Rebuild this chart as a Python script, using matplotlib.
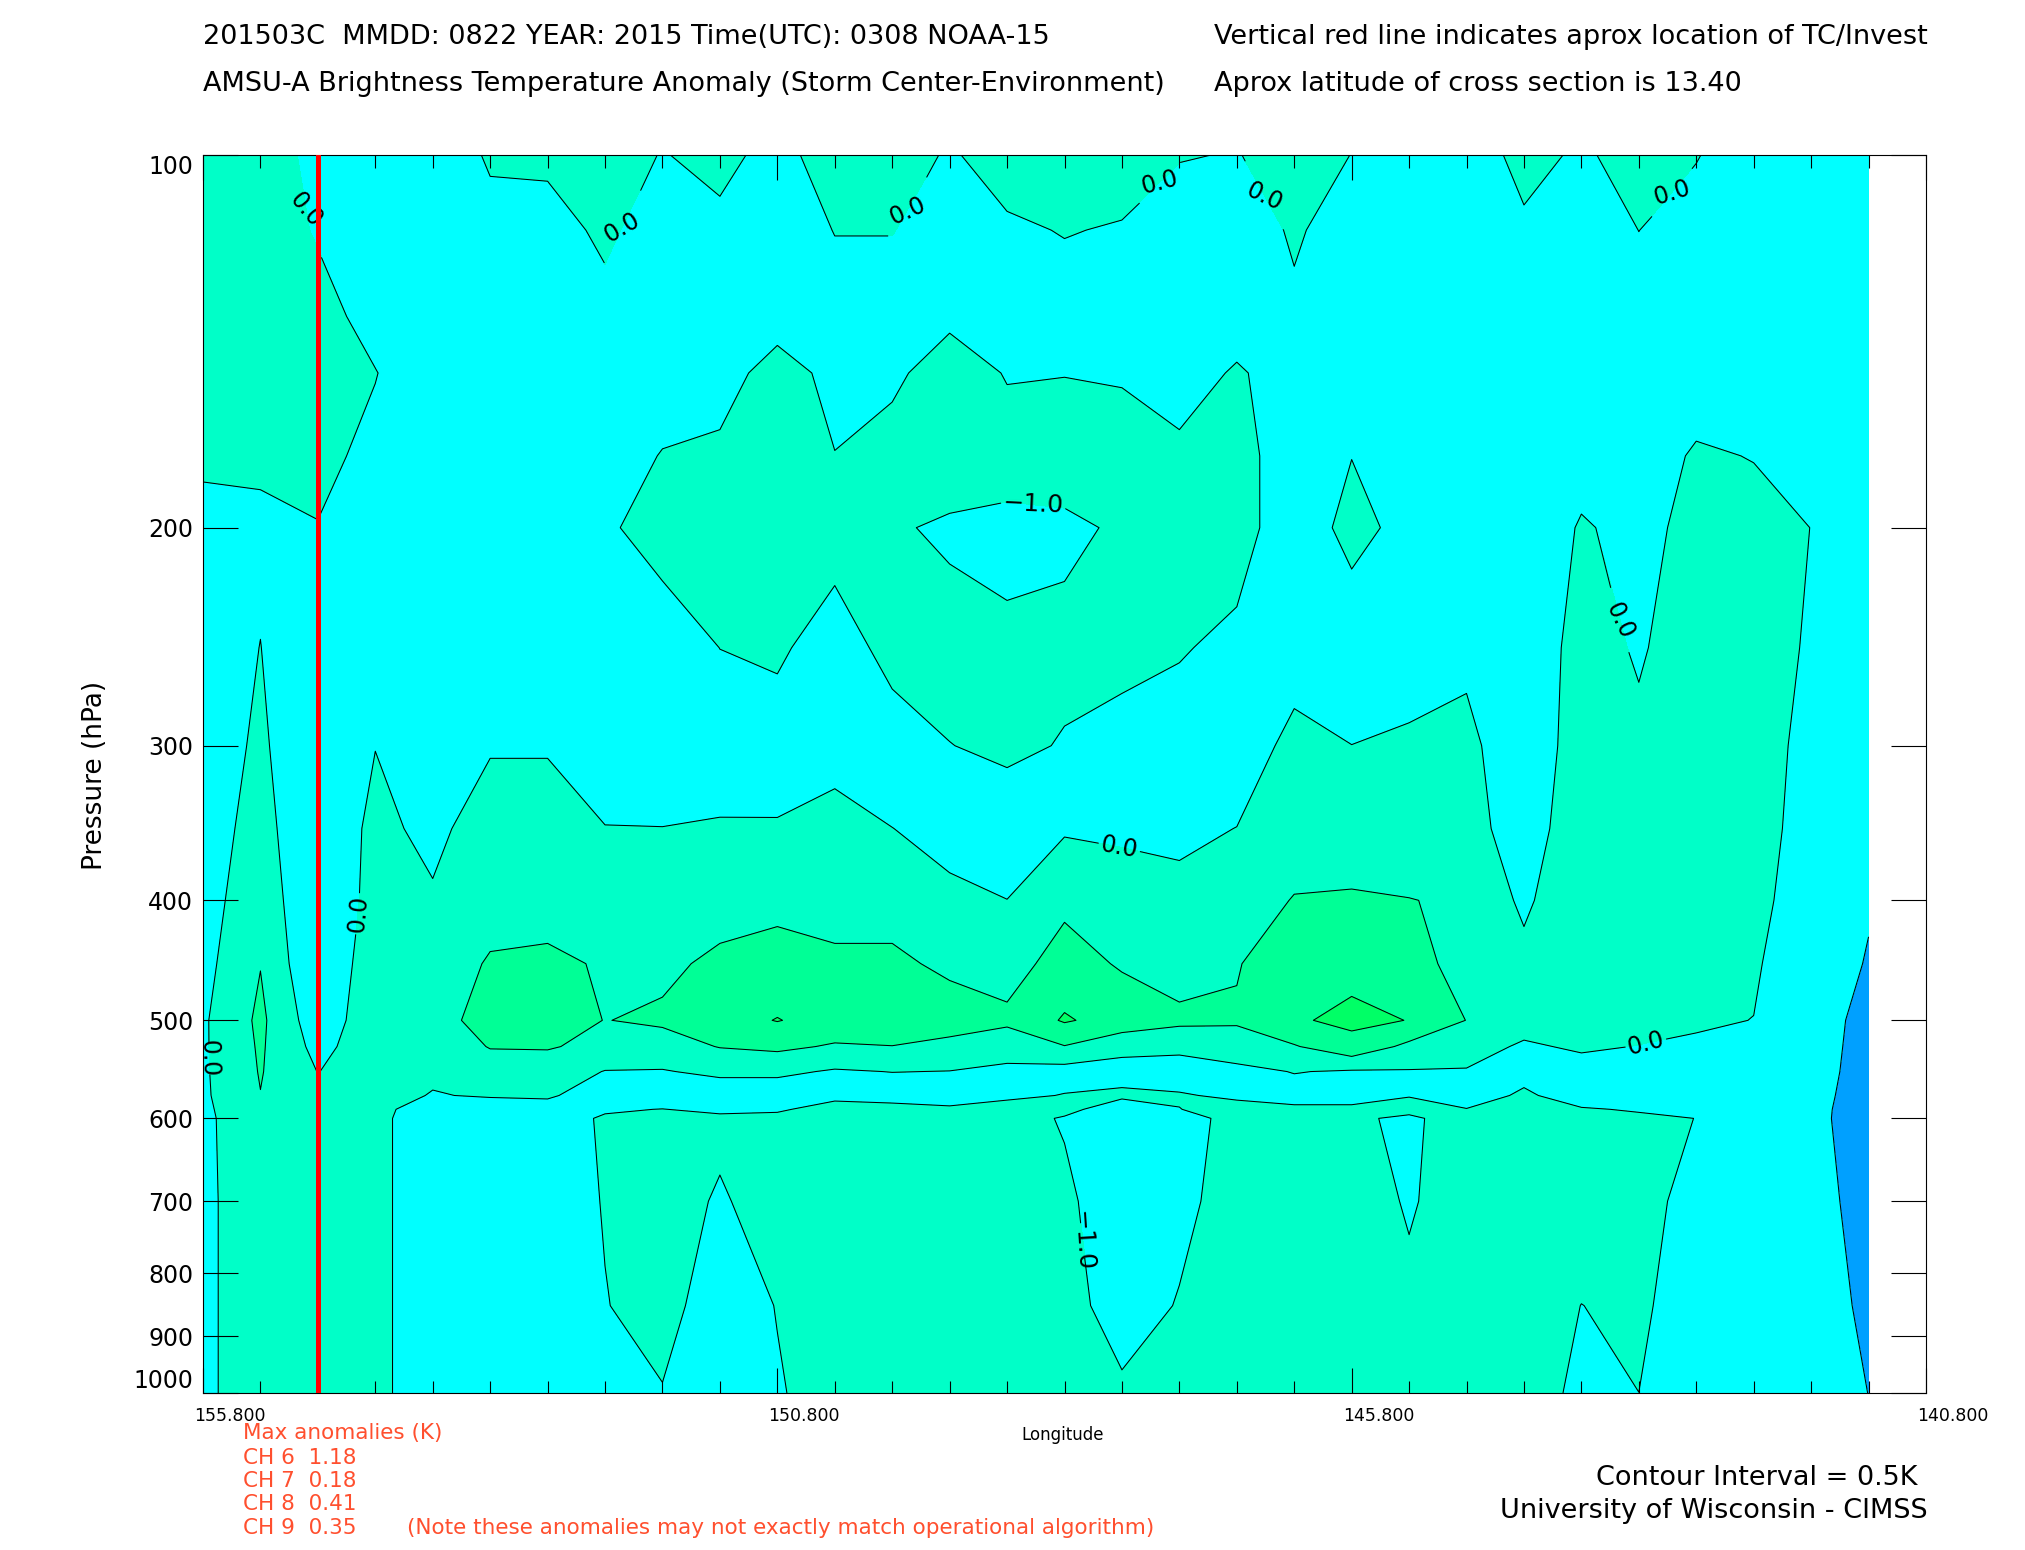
import matplotlib
matplotlib.use("Agg")
import matplotlib.pyplot as plt
import matplotlib.transforms as mtransforms
import numpy as np
from matplotlib.ticker import FixedLocator, NullLocator

# --- data: AMSU-A brightness temperature anomaly cross section ---

lons = [155.8, 155.3, 154.8, 154.3, 153.8, 153.3, 152.8, 152.3, 151.8, 151.3,
        150.8, 150.3, 149.8, 149.3, 148.8, 148.3, 147.8, 147.3, 146.8, 146.3,
        145.8, 145.3, 144.8, 144.3, 143.8, 143.3, 142.8, 142.3, 141.8, 141.3]
pres = [100, 115, 135, 150, 175, 200, 250, 300, 350, 400,
        450, 500, 525, 550, 575, 590, 600, 700, 850, 1000]

# anomaly profile (K) at each longitude, from 100 hPa down to 1000 hPa
t1558 = [0.3, 0.3, 0.3, 0.3, 0.08, -0.15, -0.4, -0.475, -0.25, -0.19, -0.153, -0.067, -0.065, -0.07, -0.08, -0.085, -0.09, -0.09, -0.09, -0.09]
t1553 = [0.25, 0.3, 0.3, 0.3, 0.1, -0.12, 0.01, 0.15, 0.2, 0.3, 0.486, 0.6, 0.56, 0.53, 0.49, 0.35, 0.3, 0.25, 0.25, 0.25]
t1548 = [-0.14, -0.05, 0.2, 0.3, 0.15, -0.02, -0.6, -0.8, -0.49, -0.45, -0.486, -0.3, -0.15, -0.01, 0.2, 0.25, 0.25, 0.25, 0.25, 0.25]
t1543 = [-0.5, -0.5, -0.2, 0.02, -0.15, -0.4, -0.4, -0.01, 0.15, 0.175, 0.32, 0.31, 0.3, 0.25, 0.2, 0.17, 0.15, 0.15, 0.15, 0.15]
t1538 = [-0.55, -0.5, -0.45, -0.4, -0.4, -0.4, -0.4, -0.3, -0.15, 0.07, 0.2, 0.3, 0.25, 0.1, -0.03, -0.3, -0.35, -0.35, -0.35, -0.35]
t1533 = [0.1, -0.27, -0.4, -0.4, -0.4, -0.4, -0.4, -0.05, 0.3, 0.3, 0.55, 0.7, 0.52, 0.3, 0.05, -0.3, -0.35, -0.35, -0.35, -0.35]
t1528 = [0.15, -0.3, -0.4, -0.4, -0.4, -0.4, -0.4, -0.05, 0.3, 0.3, 0.6, 0.7, 0.53, 0.3, 0.05, -0.15, -0.2, -0.3, -0.3, -0.3]
t1523 = [0.4, 0.15, -0.25, -0.4, -0.3, -0.09, -0.3, -0.4, 0.02, 0.3, 0.45, 0.49, 0.4, -0.02, -0.2, -0.05, 0.05, 0.03, -0.02, -0.3]
t1518 = [-0.04, -0.4, -0.4, -0.3, 0.03, 0.25, -0.35, -0.4, 0.01, 0.35, 0.4, 0.573, 0.3, -0.03, -0.3, 0.01, 0.2, 0.2, 0.2, -0.03]
t1513 = [0.25, -0.22, -0.4, -0.2, 0.1, 0.3, 0.005, -0.35, 0.06, 0.3, 0.6, 0.8, 0.52, 0.1, -0.3, -0.1, 0.1, -0.05, -0.3, -0.3]
t1508 = [-0.3, -0.4, -0.2, 0.2, 0.3, 0.3, 0.1, -0.3, 0.05, 0.4, 0.65, 1.02, 0.6, 0.1, -0.3, -0.05, 0.1, 0.2, 0.02, -0.05]
t1503 = [0.45, 0.02, -0.3, -0.133, 0.01, 0.25, -0.3, -0.2, 0.2, 0.3, 0.6, 0.8, 0.45, -0.05, -0.1, 0.15, 0.25, 0.25, 0.25, 0.25]
t1498 = [0.3, 0.02, -0.3, -0.1, 0.2, 0.058, 0.2, -0.3, 0.005, 0.3, 0.6, 0.8, 0.49, 0.01, -0.3, 0.25, 0.35, 0.25, 0.25, 0.25]
t1493 = [-0.07, -0.3, -0.1, 0.25, 0.3, -0.08, 0.206, -0.01, -0.15, 0.1, 0.4, 0.75, 0.35, -0.01, -0.3, 0.1, 0.25, 0.25, 0.25, 0.25]
t1488 = [0.28, -0.1, -0.3, -0.03, 0.2, -0.12, 0.087, 0.1, -0.3, 0.005, 0.3, 0.6, 0.2, -0.1, -0.1, 0.2, 0.23, 0.25, 0.25, 0.25]
t1483 = [0.35, 0.03, -0.3, -0.01, 0.2, -0.08, 0.11, -0.03, -0.05, 0.4, 0.7, 1.05, 0.48, -0.2, 0.02, 0.15, -0.05, 0.126, 0.25, 0.25]
t1478 = [0.3, -0.05, -0.3, -0.04, 0.2, 0.053, 0.2, -0.25, -0.1, 0.3, 0.45, 0.8, 0.15, -0.2, 0.1, -0.3, -0.4, -0.4, -0.3, 0.117]
t1473 = [0.037, -0.35, -0.4, -0.2, 0.1, 0.25, 0.05, -0.3, -0.15, 0.2, 0.3, 0.6, 0.15, -0.3, 0.05, -0.01, -0.2, -0.15, 0.04, 0.25]
t1468 = [-0.03, -0.35, -0.2, 0.05, 0.2, 0.26, -0.15, -0.4, 0.01, 0.3, 0.47, 0.55, 0.3, -0.14, -0.1, 0.2, 0.164, 0.25, 0.25, 0.25]
t1463 = [0.3, 0.08, -0.12, -0.2, -0.3, -0.39, -0.3, 0.2, 0.3, 0.52, 0.8, 0.95, 0.46, 0.02, -0.2, 0.1, 0.25, 0.25, 0.25, 0.25]
t1458 = [-0.01, -0.3, -0.4, -0.3, -0.01, 0.2, -0.425, 0.005, 0.25, 0.55, 0.87, 1.1, 0.85, -0.05, -0.2, 0.1, 0.089, 0.25, 0.25, 0.25]
t1453 = [-0.3, -0.4, -0.4, -0.4, -0.4, -0.2, -0.3, 0.1, 0.25, 0.51, 0.8, 0.99, 0.377, -0.033, -0.02, 0.15, -0.1, -0.05, 0.117, 0.25]
t1448 = [-0.356, -0.3, -0.4, -0.4, -0.4, -0.3, -0.2, 0.25, 0.3, 0.45, 0.2, 0.49, 0.3, -0.05, -0.3, 0.02, 0.27, 0.25, 0.25, 0.25]
t1443 = [0.2, -0.108, -0.4, -0.4, -0.4, -0.4, -0.37, -0.7, -0.4, -0.1, 0.15, 0.3, -0.1, -0.2, 0.1, 0.2, 0.25, 0.25, 0.25, 0.25]
t1438 = [-0.094, -0.4, -0.4, -0.4, -0.2, 0.05, 0.2, 0.49, 0.49, 0.45, 0.3, 0.3, 0.1, -0.3, -0.3, 0.05, 0.25, 0.25, -0.005, -0.118]
t1433 = [0.254, 0.005, -0.3, -0.4, -0.3, -0.15, -0.05, 0.1, 0.3, 0.3, 0.3, 0.25, -0.02, -0.3, -0.3, -0.05, 0.1, 0.15, 0.1, -0.001]
t1428 = [0.035, -0.3, -0.4, -0.3, 0.07, 0.15, 0.25, 0.25, 0.25, 0.25, 0.2, 0.09, -0.1, -0.3, -0.2, -0.1, -0.005, -0.15, -0.3, -0.4]
t1423 = [-0.4, -0.4, -0.4, -0.3, -0.02, 0.2, 0.25, 0.25, 0.25, 0.25, 0.1, -0.01, -0.3, -0.35, -0.35, -0.35, -0.3, -0.3, -0.3, -0.3]
t1418 = [-0.4, -0.4, -0.4, -0.4, -0.4, -0.005, -0.0625, -0.167, -0.25, -0.46, -0.57, -0.4, -0.45, -0.5, -0.6, -0.68, -0.7, -0.6, -0.5, -0.4]
t1413 = [-0.4, -0.4, -0.4, -0.4, -0.4, -0.4, -0.4, -0.5, -0.6, -0.936, -1.05, -1.4, -1.45, -1.5, -1.55, -1.55, -1.55, -1.4, -1.2, -1.01]

storm_lon = 154.8
max_anom = [("CH 6", "1.18"), ("CH 7", "0.18"), ("CH 8", "0.41"), ("CH 9", "0.35")]

# where the contour labels sit (lon, hPa)
zero_labels = [(154.89, 110), (152.17, 111.4), (149.68, 108.3), (147.47, 105.3),
               (146.56, 107.7), (143.02, 105), (147.82, 361), (154.5, 410),
               (155.66, 537), (143.42, 236), (143.22, 528)]
minus_labels = [(148.57, 186.5), (148.06, 753)]

grid = np.array([t1558, t1553, t1548, t1543, t1538, t1533, t1528, t1523, t1518, t1513,
                 t1508, t1503, t1498, t1493, t1488, t1483, t1478, t1473, t1468, t1463,
                 t1458, t1453, t1448, t1443, t1438, t1433, t1428, t1423, t1418, t1413]).T

# --- plot ---

plt.rcParams["contour.negative_linestyle"] = "solid"

fig = plt.figure(figsize=(20.25, 15.5), dpi=100)
ax = fig.add_axes([203 / 2025, 1 - 1393 / 1550, 1723 / 2025, 1238 / 1550])

fill_cols = ["#00a0ff", "#00ffff", "#00ffc8", "#00ff96", "#00ff66"]
ax.contourf(lons, pres, grid, levels=[-5, -1.0, 0.0, 0.5, 1.0, 5], colors=fill_cols)
ax.contour(lons, pres, grid, levels=[-1.0, 0.5, 1.0], colors="k", linewidths=0.75,
           linestyles="solid")
cs0 = ax.contour(lons, pres, grid, levels=[0.0], colors="k", linewidths=0.75,
                 linestyles="solid")
ax.clabel(cs0, manual=zero_labels, inline=True, fmt=lambda v: "0.0",
          fontsize=17, inline_spacing=3)
ax.clabel(cs0, manual=minus_labels, inline=True, fmt=lambda v: "\u22121.0",
          fontsize=18, inline_spacing=3)

ax.axvline(storm_lon, color="red", lw=3.6, zorder=5)

ax.set_yscale("log")
ax.set_xlim(155.8, 140.8)
ax.set_ylim(1000, 100)

yt = [100, 200, 300, 400, 500, 600, 700, 800, 900, 1000]
ax.yaxis.set_major_locator(FixedLocator(yt))
ax.yaxis.set_minor_locator(NullLocator())
ax.set_yticklabels([str(v) for v in yt])
ax.xaxis.set_major_locator(FixedLocator([155.8, 150.8, 145.8, 140.8]))
ax.xaxis.set_minor_locator(FixedLocator(np.arange(140.8, 155.85, 0.5)))
ax.set_xticklabels(["155.800", "150.800", "145.800", "140.800"])

ax.tick_params(axis="y", which="major", direction="in", length=25, width=0.8,
               left=True, right=True, labelsize=17, pad=7)
ax.tick_params(axis="x", which="major", direction="in", length=18, width=0.8,
               top=True, bottom=True, labelsize=12.5, pad=10)
ax.tick_params(axis="x", which="minor", direction="in", length=9, width=0.8,
               top=True, bottom=True)
for s in ax.spines.values():
    s.set_linewidth(0.8)

# IDL-style label placement: x labels sit a bit right of their ticks,
# end labels of the pressure axis are kept inside the axis range
shift = mtransforms.ScaledTranslation(27 / 100, 0, fig.dpi_scale_trans)
for t in ax.xaxis.get_major_ticks():
    t.label1.set_transform(t.label1.get_transform() + shift)
yticks = ax.yaxis.get_major_ticks()
yticks[0].label1.set_va("top")
yticks[-1].label1.set_va("bottom")

fig.text(95 / 2025, 0.5, "Pressure (hPa)", rotation=90, ha="center", va="center", fontsize=19)
fig.text(1063 / 2025, 1 - 1435 / 1550, "Longitude", ha="center", va="center", fontsize=12)

fig.text(0.1002, 1 - 37 / 1550, "201503C  MMDD: 0822 YEAR: 2015 Time(UTC): 0308 NOAA-15",
         ha="left", va="center", fontsize=19.5)
fig.text(0.1002, 1 - 84 / 1550, "AMSU-A Brightness Temperature Anomaly (Storm Center-Environment)",
         ha="left", va="center", fontsize=19.5)
fig.text(1214 / 2025, 1 - 37 / 1550, "Vertical red line indicates aprox location of TC/Invest",
         ha="left", va="center", fontsize=19.5)
fig.text(1214 / 2025, 1 - 84 / 1550, "Aprox latitude of cross section is 13.40",
         ha="left", va="center", fontsize=19.5)

orange = "#ff4f2e"
fig.text(243 / 2025, 1 - 1433 / 1550, "Max anomalies (K)", color=orange, ha="left", va="center", fontsize=15.5)
for i, (ch, val) in enumerate(max_anom):
    y = [1458, 1481, 1504, 1528][i]
    fig.text(243 / 2025, 1 - y / 1550, f"{ch}  {val}", color=orange, ha="left", va="center", fontsize=15.5)
fig.text(407 / 2025, 1 - 1528 / 1550, "(Note these anomalies may not exactly match operational algorithm)",
         color=orange, ha="left", va="center", fontsize=15.5)

fig.text(1917 / 2025, 1 - 1478 / 1550, "Contour Interval = 0.5K", ha="right", va="center", fontsize=19.5)
fig.text(1928 / 2025, 1 - 1511 / 1550, "University of Wisconsin - CIMSS", ha="right", va="center", fontsize=19.5)

fig.savefig("out.png", dpi=100)
